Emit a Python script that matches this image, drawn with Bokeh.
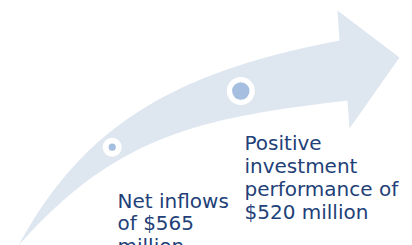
import numpy as np
from bokeh.plotting import figure
from bokeh.models import Range1d
from bokeh.core.properties import value
from bokeh.embed import file_html
from bokeh.resources import INLINE

# Shape control points (screen-like coordinates, y grows downward)
upper_ctrl_x = [18, 85.5, 183, 339]
upper_ctrl_y = [245, 119, 70, 40]
lower_ctrl_x = [18, 117, 204, 347]
lower_ctrl_y = [245, 132.5, 117, 100]
head_x = [339, 337, 399, 349, 347]
head_y = [40, 10, 57, 128, 100]

# Milestone markers
marker_x = [111.7, 240.3]
marker_y = [146.7, 90.5]
ring_r = [9.5, 14.0]
dot_r = [3.6, 8.7]

# Labels
label_left = ["Net inflows", "of $565", "million"]
label_right = ["Positive", "investment", "performance of", "$520 million"]

ARROW = "#DEE6F0"
DOT = "#A6BFE0"
TEXT = "#223F78"


def bezier(cx, cy, n=80):
    t = np.linspace(0, 1, n)
    b = [(1 - t) ** 3, 3 * (1 - t) ** 2 * t, 3 * (1 - t) * t ** 2, t ** 3]
    x = sum(bi * c for bi, c in zip(b, cx))
    y = sum(bi * c for bi, c in zip(b, cy))
    return x, y


ux, uy = bezier(upper_ctrl_x, upper_ctrl_y)
lx, ly = bezier(lower_ctrl_x, lower_ctrl_y)
shape_x = list(ux) + head_x + list(lx[::-1])
shape_y = list(uy) + head_y + list(ly[::-1])

p = figure(width=412, height=245, output_backend="svg", toolbar_location=None,
           x_range=Range1d(0, 412), y_range=Range1d(245, 0),
           x_axis_type=None, y_axis_type=None, min_border=0)
p.grid.visible = False
p.outline_line_color = None
p.background_fill_color = "white"
p.border_fill_color = "white"

p.patch(shape_x, shape_y, fill_color=ARROW, line_color=None)
p.circle(marker_x, marker_y, radius=ring_r, fill_color="white", line_color=None)
p.circle(marker_x, marker_y, radius=dot_r, fill_color=DOT, line_color=None)

left_y = [200 + 22.5 * i for i in range(len(label_left))]
right_y = [142 + 23 * i for i in range(len(label_right))]
p.text([117] * len(label_left), left_y, text=label_left,
       text_font=value("DejaVu Sans"), text_font_size="20px",
       text_color=TEXT, text_baseline="alphabetic", text_align="left")
p.text([244] * len(label_right), right_y, text=label_right,
       text_font=value("DejaVu Sans"), text_font_size="20px",
       text_color=TEXT, text_baseline="alphabetic", text_align="left")

open("out.html", "w").write(file_html(p, INLINE))
